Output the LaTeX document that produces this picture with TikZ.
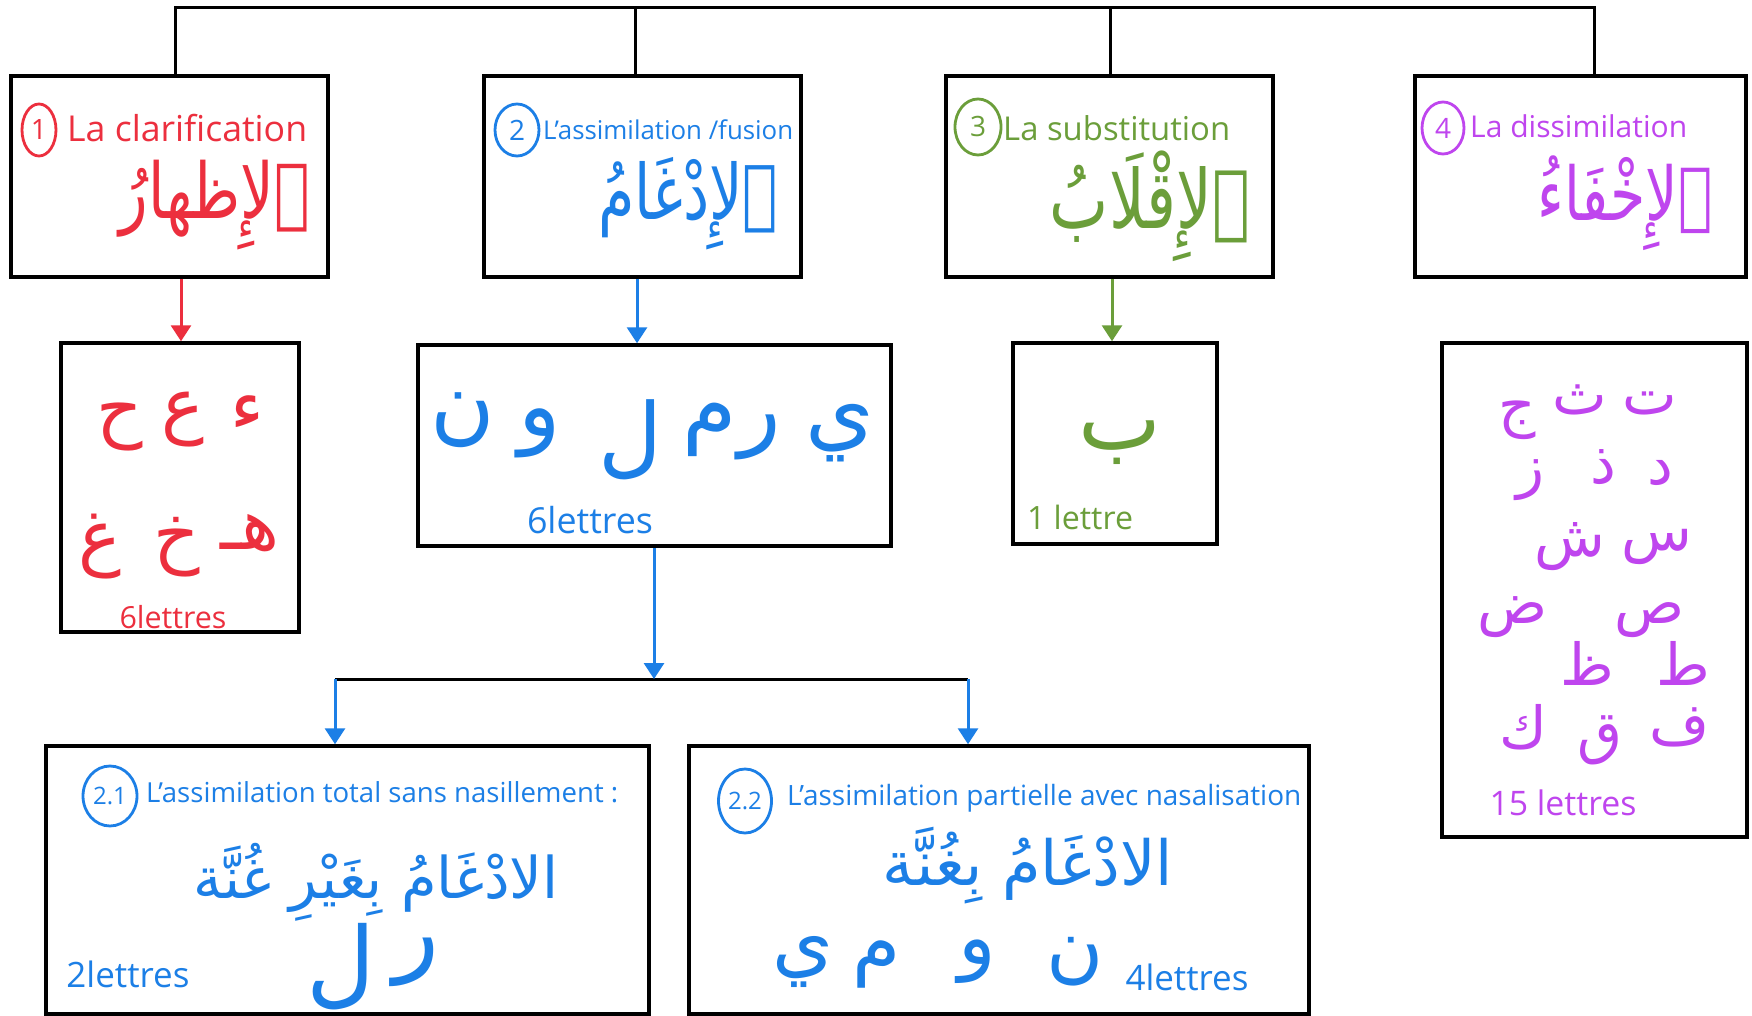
\documentclass[tikz,border=0pt]{standalone}
\usepackage{fontspec}
\usepackage{graphicx}
\setmainfont{Open Sans}
\newfontfamily\arabicfont[Script=Arabic]{DejaVu Sans}
\TeXXeTstate=1
\usetikzlibrary{arrows.meta,shapes.geometric}
\definecolor{cred}{HTML}{EC2F3E}
\definecolor{cblue}{HTML}{1C7FE6}
\definecolor{cgreen}{HTML}{6B9E3A}
\definecolor{cpurple}{HTML}{BF45EE}
\newcommand\fitw[2]{\resizebox{#1}{!}{#2}}
\newcommand\fitar[2]{\resizebox{#1}{!}{\scalebox{1}[1.3]{#2}}}
\newcommand\artxt[1]{{\arabicfont\beginR #1\endR}}
\begin{document}
\begin{tikzpicture}[x=1pt,y=-1pt,
  box/.style={draw=black, line width=3.5pt, inner sep=0pt, rectangle},
  link/.style={draw=black, line width=3pt},
  arr/.style={line width=3pt, -{Triangle[length=16pt,width=20pt]}},
  num/.style={ellipse, draw, line width=2.8pt, inner sep=0pt, font=\fontsize{28}{30}\selectfont},
  txt/.style={inner sep=0pt},
  letA/.style={inner sep=0pt, font=\arabicfont\fontsize{72}{80}\selectfont},
  letB/.style={inner sep=0pt, font=\arabicfont\fontsize{88}{96}\selectfont},
  letP/.style={inner sep=0pt, cpurple, font=\arabicfont\fontsize{58}{64}\selectfont},
]
\useasboundingbox (0,0) rectangle (1752,1016);
\fill[white] (0,0) rectangle (1752,1016);

% boxes
\node[box, minimum width=317pt, minimum height=201pt] (b1) at (169.5,176.5) {};
\node[box, minimum width=317pt, minimum height=201pt] (b2) at (642.5,176.5) {};
\node[box, minimum width=327pt, minimum height=201pt] (b3) at (1109.5,176.5) {};
\node[box, minimum width=331pt, minimum height=201pt] (b4) at (1580.5,176.5) {};
\node[box, minimum width=238pt, minimum height=289pt] (b1b) at (180,487.5) {};
\node[box, minimum width=473pt, minimum height=201pt] (b2b) at (654.5,445.5) {};
\node[box, minimum width=204pt, minimum height=201pt] (b3b) at (1115,443.5) {};
\node[box, minimum width=305pt, minimum height=494pt] (b4b) at (1594.5,590) {};
\node[box, minimum width=603pt, minimum height=268pt] (b5) at (347.5,880) {};
\node[box, minimum width=620pt, minimum height=268pt] (b6) at (999,880) {};

% top connectors
\coordinate (t1) at (175,8);
\coordinate (t2) at (635,8);
\coordinate (t3) at (1110,8);
\coordinate (t4) at (1594,8);
\draw[link] (t1 |- b1.north) -- (t1) -- (t4) -- (t4 |- b4.north);
\draw[link] (t2) -- (t2 |- b2.north);
\draw[link] (t3) -- (t3 |- b3.north);

% arrows
\coordinate (x1) at (181,0);
\coordinate (x2) at (637,0);
\coordinate (x3) at (1112,0);
\draw[arr, cred] (x1 |- b1.south) -- (x1 |- b1b.north);
\draw[arr, cblue] (x2 |- b2.south) -- (x2 |- b2b.north);
\draw[arr, cgreen] (x3 |- b3.south) -- (x3 |- b3b.north);
\coordinate (s) at (654,679);
\coordinate (sl) at (335,679);
\coordinate (sr) at (968,679);
\draw[link] (sl) -- (sr);
\draw[arr, cblue] (s |- b2b.south) -- (s);
\draw[arr, cblue] (sl) -- (sl |- b5.north);
\draw[arr, cblue] (sr) -- (sr |- b6.north);

% box 1
\node[num, cred, minimum width=34pt, minimum height=52pt] (c1) at (39,130) {1};
\node[txt, cred, anchor=west] (l1) at (67,128) {\fitw{240pt}{La clarification}};
\node[txt, cred] (a1) at (215,205) {\fitar{190pt}{\artxt{ٱلإِظهارُ}}};
% box 2
\node[num, cblue, minimum width=44pt, minimum height=52pt] (c2) at (517,130) {2};
\node[txt, cblue, anchor=west] (l2) at (543,130) {\fitw{250pt}{L'assimilation /fusion}};
\node[txt, cblue] (a2) at (688,204) {\fitar{180pt}{\artxt{ٱلإِدْغَامُ}}};
% box 3
\node[num, cgreen, minimum width=46pt, minimum height=56pt] (c3) at (978,127) {3};
\node[txt, cgreen, anchor=west] (l3) at (1003,128) {\fitw{227pt}{La substitution}};
\node[txt, cgreen] (a3) at (1150,206) {\fitar{200pt}{\artxt{ٱلإِقْلَابُ}}};
% box 4
\node[num, cpurple, minimum width=42pt, minimum height=52pt] (c4) at (1443,128) {4};
\node[txt, cpurple, anchor=west] (l4) at (1470,126) {\fitw{217pt}{La dissimilation}};
\node[txt, cpurple] (a4) at (1625,203) {\fitar{175pt}{\artxt{ٱلإِخْفَاءُ}}};

% box 1b
\node[letA, cred] (r1) at (120,427) {ح};
\node[letA, cred] (r2) at (183,420) {ع};
\node[letA, cred] (r3) at (247,413) {ء};
\node[letA, cred] (r4) at (100,547) {غ};
\node[letA, cred] (r5) at (177,547) {خ};
\node[letA, cred] (r6) at (250,533) {\artxt{هـ}};
\node[txt, cred] (n1) at (173,617) {\fitw{107pt}{6lettres}};

% box 2b
\node[letB, cblue] (g1) at (463,420) {ن};
\node[letB, cblue] (g2) at (540,433) {و};
\node[letB, cblue] (g3) at (630,440) {ل};
\node[letB, cblue] (g4) at (710,430) {م};
\node[letB, cblue] (g5) at (760,437) {ر};
\node[letB, cblue] (g6) at (840,433) {ي};
\node[txt, cblue] (n2) at (590,520) {\fitw{126pt}{6lettres}};

% box 3b
\node[letB, cgreen] (v1) at (1120,443) {ب};
\node[txt, cgreen] (n3) at (1080,517) {\fitw{106pt}{1 lettre}};

% box 4b
\node[letP] (p1) at (1650,403) {ت};
\node[letP] (p2) at (1580,400) {ث};
\node[letP] (p3) at (1517,420) {ج};
\node[letP] (p4) at (1660,473) {د};
\node[letP] (p5) at (1603,467) {ذ};
\node[letP] (p6) at (1530,480) {ز};
\node[letP] (p7) at (1657,547) {س};
\node[letP] (p8) at (1570,547) {ش};
\node[letP] (p9) at (1650,620) {ص};
\node[letP] (p10) at (1513,617) {ض};
\node[letP] (p11) at (1683,663) {ط};
\node[letP] (p12) at (1587,663) {ظ};
\node[letP] (p13) at (1680,727) {ف};
\node[letP] (p14) at (1600,740) {ق};
\node[letP] (p15) at (1523,727) {ك};
\node[txt, cpurple] (n4) at (1563,803) {\fitw{147pt}{15 lettres}};

% box 5
\node[num, cblue, minimum width=54pt, minimum height=60pt, font=\fontsize{24}{26}\selectfont] (c5) at (110,796) {2.1};
\node[txt, cblue, anchor=west] (l5) at (146,792) {\fitw{472pt}{L'assimilation total sans nasillement :}};
\node[txt, cblue] (a5) at (376,882) {\fitw{365pt}{\artxt{الادْغَامُ بِغَيْرِ غُنَّة}}};
\node[letB, cblue, font=\arabicfont\fontsize{95}{100}\selectfont] (w1) at (341,967) {ل};
\node[letB, cblue, font=\arabicfont\fontsize{95}{100}\selectfont] (w2) at (416,962) {ر};
\node[txt, cblue] (n5) at (128,974) {\fitw{123pt}{2lettres}};

% box 6
\node[num, cblue, minimum width=53pt, minimum height=64pt, font=\fontsize{24}{26}\selectfont] (c6) at (745,801) {2.2};
\node[txt, cblue, anchor=west] (l6) at (787,798) {\fitw{514pt}{L'assimilation partielle avec nasalisation}};
\node[txt, cblue] (a6) at (1028,866) {\fitw{290pt}{\artxt{الادْغَامُ بِغُنَّة}}};
\node[letB, cblue, font=\arabicfont\fontsize{78}{84}\selectfont] (m1) at (803,962) {ي};
\node[letB, cblue, font=\arabicfont\fontsize{78}{84}\selectfont] (m2) at (877,964) {م};
\node[letB, cblue, font=\arabicfont\fontsize{78}{84}\selectfont] (m3) at (977,962) {و};
\node[letB, cblue, font=\arabicfont\fontsize{78}{84}\selectfont] (m4) at (1075,962) {ن};
\node[txt, cblue] (n6) at (1187,977) {\fitw{123pt}{4lettres}};
\end{tikzpicture}
\end{document}
